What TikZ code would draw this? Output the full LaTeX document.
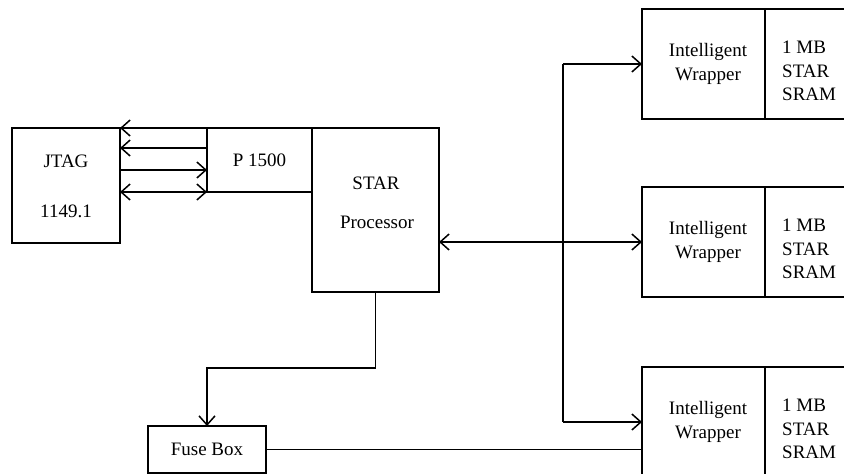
\documentclass[tikz,border=0pt]{standalone}
\usepackage{fontspec}
\setmainfont{Liberation Serif}
\usetikzlibrary{arrows.meta}
\begin{document}
\begin{tikzpicture}[x=1pt,y=-1pt,
  box/.style={draw, line width=1.5pt, inner sep=0pt, outer sep=0pt, rectangle,
    font=\fontsize{19}{24}\selectfont},
  lbl/.style={font=\fontsize{19}{24}\selectfont, inner sep=0pt, anchor=base},
  lblw/.style={lbl, anchor=base west},
  conn/.style={line width=1.5pt},
  arr/.style={conn, -{Straight Barb[length=9pt,width=16pt]}},
  arrtwo/.style={conn, {Straight Barb[length=9pt,width=16pt]}-{Straight Barb[length=9pt,width=16pt]}}]
\useasboundingbox (0,0) rectangle (844,474);

% left blocks
\node[box, minimum width=108pt, minimum height=115pt] (jtag) at (66,185.5) {};
\node[lbl] (jtagA) at (66,167) {JTAG};
\node[lbl] (jtagB) at (66,217) {1149.1};
\node[box, minimum width=105pt, minimum height=64pt] (p1500) at (259.5,160) {P 1500};
\node[box, minimum width=127pt, minimum height=164pt] (proc) at (375.5,210) {};
\node[lbl] (procA) at (376,189) {STAR};
\node[lbl] (procB) at (377,228) {Processor};
\node[box, minimum width=118pt, minimum height=47pt] (fuse) at (207,449.5) {Fuse Box};

% wrappers
\foreach \i/\T in {1/9, 2/187, 3/367} {
  \node[box, minimum width=123pt, minimum height=110pt] (iw\i) at (703.5,\T+55) {};
  \node[box, minimum width=86pt, minimum height=110pt] (sr\i) at (808,\T+55) {};
  \node[lbl] (iwa\i) at (708,\T+47) {Intelligent};
  \node[lbl] (iwb\i) at (708,\T+71) {Wrapper};
  \node[lblw] (sra\i) at (782,\T+44) {1 MB};
  \node[lblw] (srb\i) at (782,\T+68) {STAR};
  \node[lblw] (src\i) at (782,\T+91) {SRAM};
}

% JTAG <-> P1500
\draw[arr] (p1500.north west) -- (jtag.north east);
\draw[arr] (p1500.west |- 0,148) -- (jtag.east |- 0,148);
\draw[arr] (jtag.east |- 0,170) -- (p1500.west |- 0,170);
\draw[arrtwo] (jtag.east |- p1500.south) -- (p1500.south west);

% bus
\coordinate (bus) at (563,0);
\draw[arrtwo] (proc.east |- iw2.west) -- (iw2.west);
\draw[conn] (bus |- iw1.west) -- (bus |- iw3.west);
\draw[arr] (bus |- iw1.west) -- (iw1.west);
\draw[arr] (bus |- iw3.west) -- (iw3.west);

% fuse
\draw[arr] (proc.south) -- ++(0,76) -| (fuse.north);
\draw[conn] (fuse.east) -- (fuse.east -| iw3.west);
\end{tikzpicture}
\end{document}
